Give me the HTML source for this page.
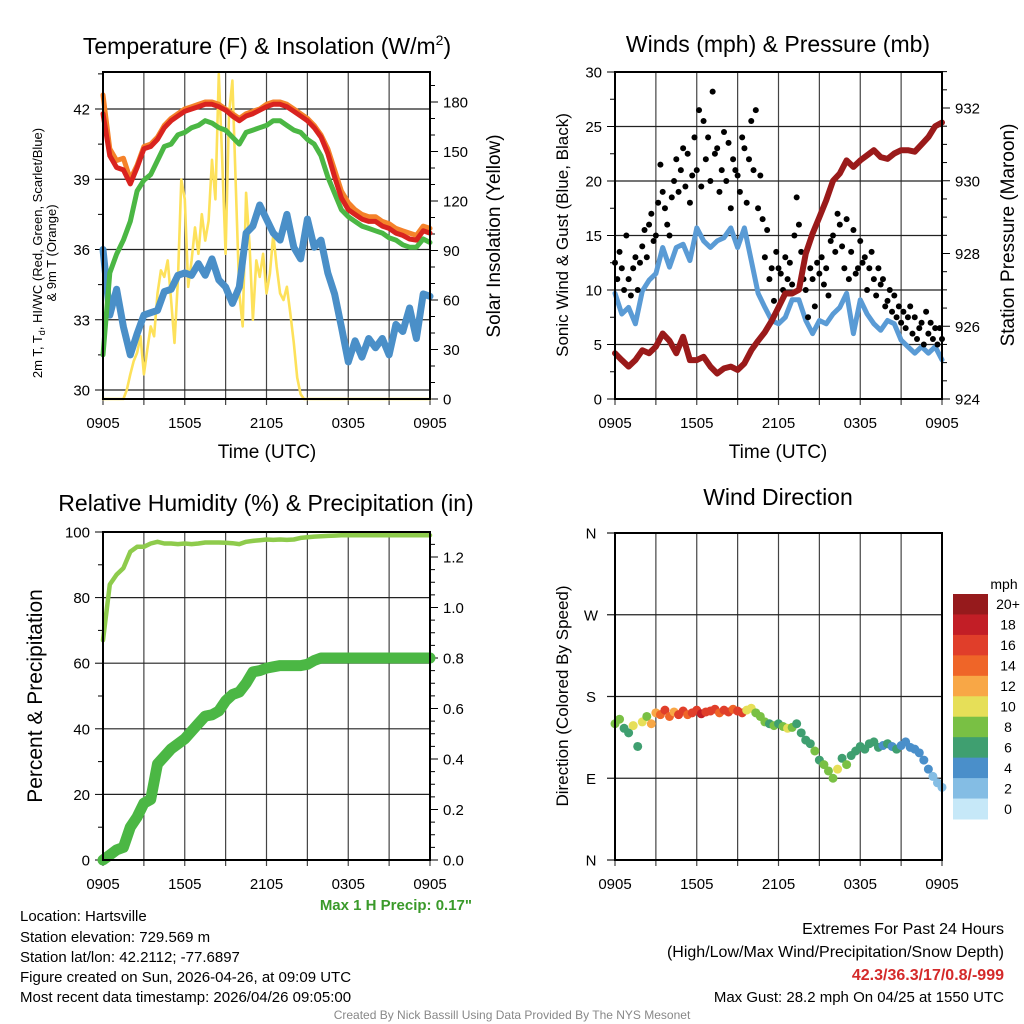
<!DOCTYPE html>
<html><head><meta charset="utf-8"><style>
html,body{margin:0;padding:0;background:#fff;}
svg{display:block;font-family:"Liberation Sans",Arial,sans-serif;}
</style></head><body>
<svg id="fig" width="1024" height="1024" viewBox="0 0 1024 1024" xmlns="http://www.w3.org/2000/svg">
<rect width="1024" height="1024" fill="#fff"/>
<g id="tl"></g>
<g id="tr"></g>
<g id="bl"></g>
<g id="br"></g>

<text x="267" y="54" font-size="23" text-anchor="middle">Temperature (F) &amp; Insolation (W/m<tspan font-size="14" dy="-9">2</tspan><tspan dy="9">)</tspan></text>
<text x="778" y="52" font-size="23" text-anchor="middle">Winds (mph) &amp; Pressure (mb)</text>
<text x="266" y="511" font-size="23" text-anchor="middle">Relative Humidity (%) &amp; Precipitation (in)</text>
<text x="778" y="505" font-size="23" text-anchor="middle">Wind Direction</text>

<text x="267" y="458" font-size="19" text-anchor="middle">Time (UTC)</text>
<text x="778" y="458" font-size="19" text-anchor="middle">Time (UTC)</text>

<text transform="translate(42,253) rotate(-90)" font-size="13" text-anchor="middle">2m T, T<tspan font-size="9" dy="3">d</tspan><tspan dy="-3">, HI/WC (Red, Green, Scarlet/Blue)</tspan></text>
<text transform="translate(56,253) rotate(-90)" font-size="13" text-anchor="middle">&amp; 9m T (Orange)</text>
<text transform="translate(500,236) rotate(-90)" font-size="19" text-anchor="middle">Solar Insolation (Yellow)</text>
<text transform="translate(568,235) rotate(-90)" font-size="17" text-anchor="middle">Sonic Wind &amp; Gust (Blue, Black)</text>
<text transform="translate(1014,235) rotate(-90)" font-size="19" text-anchor="middle">Station Pressure (Maroon)</text>
<text transform="translate(42,696) rotate(-90)" font-size="21" text-anchor="middle">Percent &amp; Precipitation</text>
<text transform="translate(568,696) rotate(-90)" font-size="17" text-anchor="middle">Direction (Colored By Speed)</text>

<text x="1004" y="589" font-size="14" text-anchor="middle">mph</text>

<text x="472" y="910" font-size="15" font-weight="bold" fill="#3a9a2a" text-anchor="end">Max 1 H Precip: 0.17"</text>

<g font-size="15">
<text x="20" y="921">Location: Hartsville</text>
<text x="20" y="942">Station elevation: 729.569 m</text>
<text x="20" y="962">Station lat/lon: 42.2112; -77.6897</text>
<text x="20" y="982">Figure created on Sun, 2026-04-26, at 09:09 UTC</text>
<text x="20" y="1002">Most recent data timestamp: 2026/04/26 09:05:00</text>
</g>
<g font-size="16" text-anchor="end">
<text x="1004" y="934">Extremes For Past 24 Hours</text>
<text x="1004" y="957">(High/Low/Max Wind/Precipitation/Snow Depth)</text>
<text x="1004" y="980" font-weight="bold" fill="#d42a2a">42.3/36.3/17/0.8/-999</text>
<text x="1004" y="1002" font-size="15">Max Gust: 28.2 mph On 04/25 at 1550 UTC</text>
</g>
<text x="512" y="1019" font-size="12" fill="#888" text-anchor="middle">Created By Nick Bassill Using Data Provided By The NYS Mesonet</text>
</svg>
<script>
const timeLabels = ["0905","1505","2105","0305","0905"];
const tempRed = [41.8,40.0,39.5,39.4,38.8,39.5,40.3,40.4,40.7,41.2,41.5,41.7,41.9,42.0,42.1,42.2,42.2,42.1,41.95,41.7,41.5,41.7,41.8,41.95,42.1,42.2,42.2,42.1,41.9,41.7,41.5,41.2,40.8,40.1,39.1,38.2,37.7,37.5,37.3,37.2,37.2,37.0,36.9,36.7,36.6,36.45,36.4,36.8,36.7];
const temp9m = [42.6,40.3,39.8,39.9,39.0,39.6,40.4,40.5,40.8,41.3,41.6,41.8,42.0,42.1,42.2,42.3,42.3,42.2,42.0,41.8,41.6,41.8,41.9,42.0,42.2,42.3,42.3,42.2,42.0,41.8,41.6,41.3,40.9,40.3,39.4,38.5,38.0,37.7,37.5,37.4,37.4,37.2,37.1,36.9,36.8,36.7,36.6,37.0,36.9];
const tempGreen = [31.5,35.0,35.8,36.4,37.2,38.5,38.96,39.2,39.8,40.4,40.5,40.9,41.0,41.2,41.3,41.5,41.4,41.2,41.1,40.8,40.5,41.0,41.1,41.2,41.3,41.5,41.5,41.3,41.1,41.0,40.7,40.5,40.0,39.1,38.4,37.7,37.4,37.2,37.0,36.9,36.8,36.7,36.5,36.4,36.2,36.1,36.1,36.45,36.3];
const dewpoint = [36.0,33.2,34.3,32.7,31.5,32.4,33.2,33.3,33.4,34.2,34.3,34.9,35.0,34.9,35.4,34.9,35.6,34.7,34.4,33.7,34.4,36.7,37.0,37.9,37.3,36.7,36.4,37.5,36.1,35.6,37.3,36.1,36.4,35.0,34.1,32.7,31.2,32.1,31.4,32.2,31.8,32.2,31.5,32.8,32.5,33.5,32.2,34.1,34.0];
const solar = [0,0,0,0,0,0,0,5.5,15,23,28,38,15,30,44,38,64,78,74,84,60,34,72,133,121,68,84,104,88,112,96,108,145,121,197,145,88,173,193,129,64,44,125,94,48,84,74,88,64,76,100,80,64,60,68,52,34,13,3,0,0,0,0,0,0,0,0,0,0,0,0,0,0,0,0,0,0,0,0,0,0,0,0,0,0,0,0,0,0,0,0,0,0,0,0,0,0];
const windSpeed = [9.7,7.8,8.4,6.9,9.9,10.9,11.5,13.9,12.1,13.9,14.2,12.7,15.7,14.5,13.9,14.5,14.8,15.7,13.9,15.7,12.7,9.7,8.4,7.2,6.9,7.5,9.1,9.1,7.2,6.0,7.2,6.9,7.8,8.4,9.7,6.0,9.1,7.8,6.9,6.3,7.2,6.9,5.4,4.8,4.2,4.8,4.2,4.8,3.6];
const pressure = [925.26,925.07,924.89,925.07,925.34,925.26,925.44,925.8,925.6,925.26,925.71,925.07,925.07,925.16,924.89,924.7,924.84,924.89,924.8,924.98,925.34,925.6,925.84,926.15,926.52,926.9,926.9,927.0,928.0,928.55,929.0,929.46,930.0,930.2,930.56,930.38,930.56,930.7,930.84,930.65,930.6,930.75,930.84,930.84,930.8,931.0,931.2,931.5,931.6];
const gusts = [12.5,11,13.5,12,10,15, 11,9.5,12,13,10,12.5, 14,15.5,13,16,17,14.5, 15,18,21.5,19,17.5,16, 15,18.5,20,22,19,21, 23,19.5,22.5,18,20.5,24, 21,26.5,19.5,25.5,22,24, 20,28.2,22.5,23,19,21, 24.5,20,23.5,17.5,22,21, 20.5,19,24,23,18,22, 25.5,21,26.5,17.5,20.5,16.5, 13,15.5,11,12,9,13.5, 12,11.5,10,13,11,12.5, 10.5,15,18.5,16,13.5,11, 10,7.5,12,11,8.5,12.5, 11.5,13,10.5,12,9.5,14.5, 15,13.5,17,16,14,12, 16.5,11,13.5,15.5,11.5,12, 14.5,12.5,13,10,12,13.5, 11,9.5,12,10.5,11,8.5, 9,10,8,9.5,7.5,8.5, 7,8,6.5,7.5,8.5,6, 7.5,5.5,6.5,7,5,8, 6,7,5.5,6.5,5,6.5,5.5];
const humidity = [67,84,87,89,94,95.5,95.5,96.5,97,96.5,96.5,96.3,96.5,96.3,96.5,96.8,96.8,96.8,96.7,96.6,96.3,97,97.3,97.5,97.7,97.6,97.7,97.6,97.7,98.2,98.4,98.6,98.7,98.8,98.9,99,99,99,99,99,99,99,99,99,99,99,99,99,99];
const precip = [0,0.02,0.04,0.05,0.13,0.17,0.225,0.24,0.38,0.41,0.44,0.46,0.48,0.51,0.54,0.57,0.575,0.59,0.63,0.655,0.665,0.70,0.745,0.75,0.76,0.765,0.77,0.77,0.77,0.77,0.775,0.79,0.80,0.80,0.80,0.80,0.80,0.80,0.80,0.80,0.80,0.80,0.80,0.80,0.80,0.80,0.80,0.80,0.80];
const windDir = [150,155,145, 140,148,125, 152,158,150, 162,160,165, 158,163,160, 164,160,162, 165,161,163, 164,166,162, 165,163,166, 164,162,165, 167,162,158, 152,150,148, 150,147,145, 146,150,140, 132,128,120, 110,105,98, 90,100,112, 105,115,120, 125,122,128, 130,124,126, 128,125,122, 126,130,124, 122,118,110, 100,92,85, 80];
const dirSpeed = [8,9,7, 7,10,6, 11,9,12, 13,14,16, 15,12,16, 17,15,16, 17,18,16, 16,17,15, 17,16,15, 16,17,11, 10,9,8, 8,7,8, 7,8,10, 8,7,6, 6,7,8, 7,8,9, 8,10,7, 8,6,7, 6,7,6, 6,7,5, 6,5,6, 5,4,5, 4,5,4, 4,3,3, 3];
const speedBins = ["0","2","4","6","8","10","12","14","16","18","20+"];
const dirLabels = ["N","E","S","W","N"];

const NS = "http://www.w3.org/2000/svg";
const SPEED_COLORS = ["#c6e8f8","#84bde4","#4a8fca","#3f9f70","#79c044","#e6df58","#f8a746","#ef6528","#e03e2a","#c21e26","#961a1c"];
function mk(parent, tag, attrs){const e=document.createElementNS(NS,tag);for(const k in attrs)e.setAttribute(k,attrs[k]);parent.appendChild(e);return e;}
function series(parent, arr, step, xf, yf, color, w, name){
  let d="";arr.forEach((v,i)=>{d+=(i?"L":"M")+xf(i*step).toFixed(1)+","+yf(v).toFixed(1);});
  const p=mk(parent,"path",{d:d,fill:"none",stroke:color,"stroke-width":w,"stroke-linejoin":"round","stroke-linecap":"round"});
  
  
  return p;
}
function txt(parent, x, y, s, anchor, size, name){
  const t=mk(parent,"text",{x:x,y:y,"font-size":size||15,"text-anchor":anchor||"middle"});t.textContent=s;
  
  
  return t;
}
function ln(parent,x1,y1,x2,y2,col,w,name){
  const l=mk(parent,"line",{x1:x1,y1:y1,x2:x2,y2:y2,stroke:col||"#000","stroke-width":w||1});
  
  
  return l;
}
function frame(g,x0,x1,y0,y1,xf,lblY){
  for(let h=0;h<=24;h+=3){const x=xf(h);ln(g,x,y0,x,y1+6,"#444",1.2,"x-gridline");}
  timeLabels.forEach((s,i)=>txt(g,xf(i*6),lblY,s,"middle",15,"x-tick-label"));
}
function box(g,x0,x1,y0,y1){const r=mk(g,"rect",{x:x0,y:y0,width:x1-x0,height:y1-y0,fill:"none",stroke:"#000","stroke-width":2});
  
  }
function yTicks(g,yf,from,to,major,minor,xEdge,dir,fmt,hgrid,x0,x1){
  for(let v=from;v<=to+1e-9;v+=minor){const y=yf(v);const isMaj=Math.abs((v-from)/major-Math.round((v-from)/major))<1e-6;
    ln(g,xEdge,y,xEdge+dir*(isMaj?8:5),y,"#000",1,isMaj?"y-major-tick":"y-minor-tick");
    if(isMaj){txt(g,xEdge+dir*13,y+5.5,fmt(v),dir<0?"end":"start",15,"y-tick-label");
      if(hgrid)ln(g,x0,y,x1,y,"#222",1.2,"y-gridline");}}
}

// ---- Top-left: temperature ----
(function(){
  const g=document.getElementById("tl");
  const x0=103,x1=430,y0=72,y1=399;
  const xf=h=>x0+h*(x1-x0)/24, yf=v=>390-(v-30)*(281/12), ys=s=>399-s*297/180;
  frame(g,x0,x1,y0,y1,xf,428);
  yTicks(g,yf,30,43.5,3,1.5,x0,-1,v=>String(v),true,x0,x1);
  yTicks(g,ys,0,190,30,10,x1,1,v=>String(v),false);
  series(g,solar,0.25,xf,ys,"#fde15a",2.6,"solar-insolation-line");
  series(g,dewpoint,0.5,xf,yf,"#4a8fc8",7,"dewpoint-line");
  series(g,tempGreen,0.5,xf,yf,"#4bb744",5,"heat-index-line");
  series(g,temp9m,0.5,xf,yf,"#f5822a",5,"temperature-9m-line");
  series(g,tempRed,0.5,xf,yf,"#d9231f",5,"temperature-2m-line");
  box(g,x0,x1,y0,y1);
})();

// ---- Top-right: winds ----
(function(){
  const g=document.getElementById("tr");
  const x0=615,x1=942,y0=72,y1=399;
  const xf=h=>x0+h*(x1-x0)/24, yf=v=>399-v*327/30, yp=p=>399-(p-924)*291/8;
  frame(g,x0,x1,y0,y1,xf,428);
  yTicks(g,yf,0,30,5,2.5,x0,-1,v=>String(v),true,x0,x1);
  yTicks(g,yp,924,933,2,0.5,x1,1,v=>String(v),false);
  series(g,windSpeed,0.5,xf,yf,"#5a9bd5",5,"sonic-wind-line");
  gusts.forEach((v,i)=>{const c=mk(g,"circle",{cx:xf(i/6),cy:yf(v),r:3,fill:"#000"});
    
    });
  series(g,pressure,0.5,xf,yp,"#9a1a1a",6,"pressure-line");
  box(g,x0,x1,y0,y1);
})();

// ---- Bottom-left: humidity ----
(function(){
  const g=document.getElementById("bl");
  const x0=103,x1=430,y0=532,y1=860;
  const xf=h=>x0+h*(x1-x0)/24, yf=v=>860-v*3.28, yi=v=>860-v*252.5;
  frame(g,x0,x1,y0,y1,xf,889);
  yTicks(g,yf,0,100,20,10,x0,-1,v=>String(v),true,x0,x1);
  yTicks(g,yi,0,1.25,0.2,0.05,x1,1,v=>v.toFixed(1),false);
  series(g,precip,0.5,xf,yi,"#4bb744",11,"precipitation-line");
  series(g,humidity,0.5,xf,yf,"#8ecb4c",4.5,"relative-humidity-line");
  box(g,x0,x1,y0,y1);
})();

// ---- Bottom-right: wind direction ----
(function(){
  const g=document.getElementById("br");
  const x0=615,x1=942,y0=533,y1=860;
  const xf=h=>x0+h*(x1-x0)/24, yf=d=>860-d*327/360;
  frame(g,x0,x1,y0,y1,xf,889);
  dirLabels.forEach((s,i)=>{const y=yf(i*90);ln(g,x0-8,y,x1,y,"#222",1.2,"direction-gridline");txt(g,x0-24,y+5.5,s,"middle",15,"direction-tick-label");});
  windDir.forEach((d,i)=>{const idx=Math.min(10,Math.floor(dirSpeed[i]/2));
    const c=mk(g,"circle",{cx:xf(i/3),cy:yf(d),r:4.5,fill:SPEED_COLORS[idx]});
    
    });
  box(g,x0,x1,y0,y1);
  const top=594,bh=225/11;
  speedBins.forEach((s,i)=>{const y=top+i*bh;
    const r=mk(g,"rect",{x:953,y:y,width:35,height:bh+0.5,fill:SPEED_COLORS[10-i]});
    
    
    txt(g,1008,y+bh/2+5,speedBins[10-i],"middle",14,"legend-label");});
})();
</script>
</body></html>
